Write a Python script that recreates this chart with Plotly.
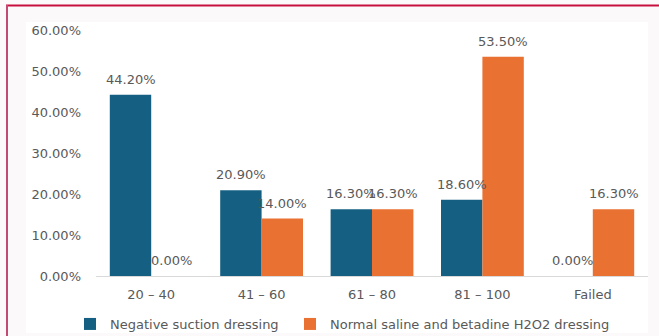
import plotly.graph_objects as go

# Score bands and the share of patients in each, per dressing type
categories = ["20 \u2013 40", "41 \u2013 60", "61 \u2013 80", "81 \u2013 100", "Failed"]
negative_suction = [44.2, 20.9, 16.3, 18.6, 0.0]
saline_betadine = [0.0, 14.0, 16.3, 53.5, 16.3]
series_names = ["Negative suction dressing", "Normal saline and betadine H2O2 dressing"]
y_ticks = [0, 10, 20, 30, 40, 50, 60]

BLUE = "#156082"
ORANGE = "#E97132"
GRAY = "#595959"
FONT = "DejaVu Sans, Verdana, sans-serif"
FS = 13

W, H = 659, 336
L, R, T, B = 96, 11, 30, 60
pw, ph = W - L - R, H - T - B
BARGAP = 0.25
bar_px = pw / len(categories) * (1 - BARGAP) / 2


def px_x(p):
    return (p - L) / pw


def px_y(p):
    return (H - B - p) / ph


fig = go.Figure()
annotations = []
series = [(series_names[0], negative_suction, BLUE, "legend"),
          (series_names[1], saline_betadine, ORANGE, "legend2")]
for i, (name, vals, col, leg) in enumerate(series):
    fig.add_trace(go.Bar(
        x=categories, y=vals, name=name, legend=leg,
        marker=dict(color=col, line=dict(width=0)),
    ))
    # value labels above each bar
    for c, v in zip(categories, vals):
        annotations.append(dict(
            x=c, y=v, xref="x", yref="y", text=f"{v:.2f}%",
            showarrow=False, xanchor="center", yanchor="middle",
            xshift=(i - 0.5) * bar_px, yshift=15.5,
            font=dict(color=GRAY, size=FS, family=FONT),
        ))

shapes = [
    # white chart area
    dict(type="rect", xref="paper", yref="paper", layer="below",
         x0=px_x(26), x1=px_x(648), y0=px_y(333), y1=px_y(22),
         fillcolor="white", line=dict(width=0)),
    # frame edges
    dict(type="line", xref="paper", yref="paper",
         x0=px_x(6), x1=px_x(660), y0=px_y(5.5), y1=px_y(5.5),
         line=dict(color="#C8103E", width=2)),
    dict(type="line", xref="paper", yref="paper",
         x0=px_x(7), x1=px_x(7), y0=px_y(5), y1=px_y(337),
         line=dict(color="#C44A76", width=2)),
]

legend_style = dict(orientation="h", xanchor="left", yanchor="middle",
                    y=px_y(324), font=dict(size=FS, color=GRAY, family=FONT),
                    itemwidth=30, bgcolor="rgba(0,0,0,0)")

fig.update_layout(
    width=W, height=H,
    margin=dict(l=L, r=R, t=T, b=B, autoexpand=False),
    paper_bgcolor="#FCF9FA",
    plot_bgcolor="white",
    barmode="group",
    bargap=BARGAP,
    bargroupgap=0,
    font=dict(family=FONT, color=GRAY, size=FS),
    shapes=shapes,
    annotations=annotations,
    showlegend=True,
    legend=dict(legend_style, x=px_x(70)),
    legend2=dict(legend_style, x=px_x(290)),
    xaxis=dict(showline=True, linecolor="#D9D9D9", linewidth=1,
               ticks="", showgrid=False, ticklabelstandoff=6,
               tickfont=dict(size=FS, color=GRAY)),
    yaxis=dict(range=[0, 60], tickvals=y_ticks,
               ticktext=[f"{v:.2f}%" for v in y_ticks],
               showgrid=False, zeroline=False, showline=False,
               ticks="", ticklabelstandoff=14,
               tickfont=dict(size=FS, color=GRAY)),
)

fig.write_html("out.html")
